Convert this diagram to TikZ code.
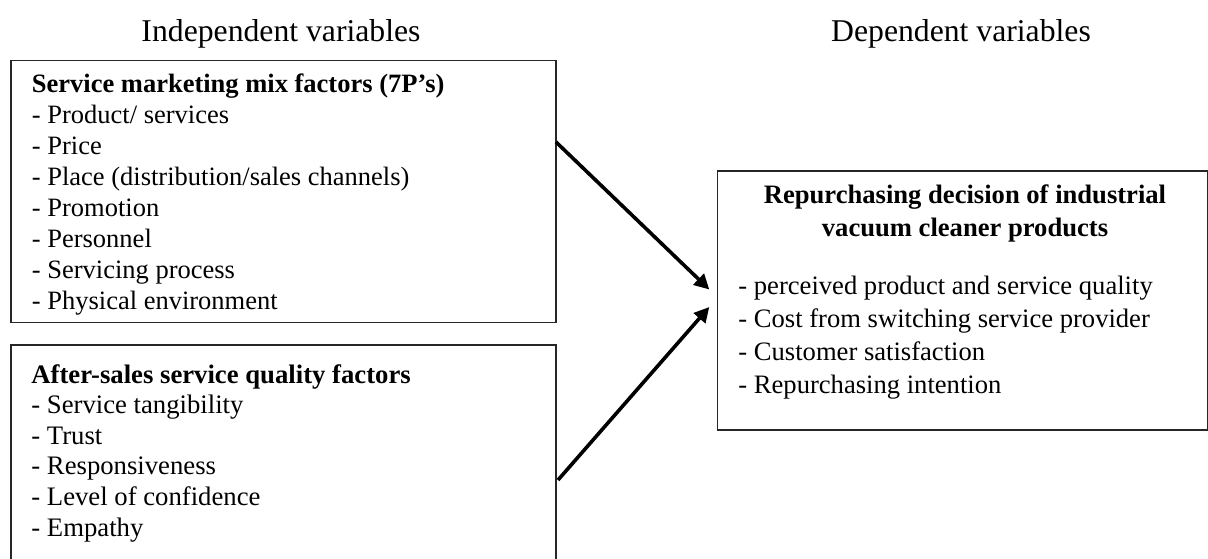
\documentclass[tikz,border=0pt]{standalone}
\usepackage{fontspec}
\setmainfont{Liberation Serif}
\usetikzlibrary{arrows.meta,fit}
\begin{document}
\begin{tikzpicture}[x=0.5pt,y=-0.5pt,
  box/.style={draw=black!85, line width=0.75pt, inner sep=0pt},
  head/.style={inner sep=0pt, anchor=base, font=\fontsize{15.85}{18}\selectfont},
  lineA/.style={inner sep=0pt, anchor=base west, font=\fontsize{13.25}{15}\selectfont},
  lineB/.style={inner sep=0pt, anchor=base west, font=\fontsize{13.35}{15}\selectfont},
  lineC/.style={inner sep=0pt, anchor=base west, font=\fontsize{13.3}{15}\selectfont},
  titleC/.style={inner sep=0pt, anchor=base, font=\fontsize{13.3}{15}\selectfont\bfseries},
  arrow/.style={line width=1.8pt, -{Triangle[length=7.5pt,width=7.5pt]}}]
\useasboundingbox (0,0) rectangle (1208,558);
% headings
\node[head] (hi) at (281,41.5) {Independent variables};
\node[head] (hd) at (961,41) {Dependent variables};
% boxes
\node[box, fit={(11,60.5) (556,322.7)}] (b1) {};
\node[box, fit={(11,345) (556,570)}] (b2) {};
\node[box, fit={(717.5,171) (1208,430)}] (b3) {};
% box 1 text
\node[lineA] (a0) at (31.5,92) {\textbf{Service marketing mix factors (7P’s)}};
\foreach \t [count=\i] in {- Product/ services, - Price, - Place (distribution/sales channels), - Promotion, - Personnel, - Servicing process, - Physical environment}
  \node[lineA] (a\i) at (31.5,{92+31*\i}) {\t};
% box 2 text
\node[lineB] (c0) at (31,383) {\textbf{After-sales service quality factors}};
\foreach \t [count=\i] in {- Service tangibility, - Trust, - Responsiveness, - Level of confidence, - Empathy}
  \node[lineB] (c\i) at (31,{383+30.6*\i}) {\t};
% box 3 text
\node[titleC] (d1) at (965,203) {Repurchasing decision of industrial};
\node[titleC] (d2) at (965,236) {vacuum cleaner products};
\foreach \t [count=\i] in {- perceived product and service quality, - Cost from switching service provider, - Customer satisfaction, - Repurchasing intention}
  \node[lineC] (e\i) at (738,{294+33*(\i-1)}) {\t};
% arrows
\coordinate (s1) at (556,142);
\coordinate (t1) at (709.3,289.5);
\coordinate (s2) at (558,480);
\coordinate (t2) at (709.3,307);
\draw[arrow] (s1) -- (t1);
\draw[arrow] (s2) -- (t2);
\end{tikzpicture}
\end{document}
